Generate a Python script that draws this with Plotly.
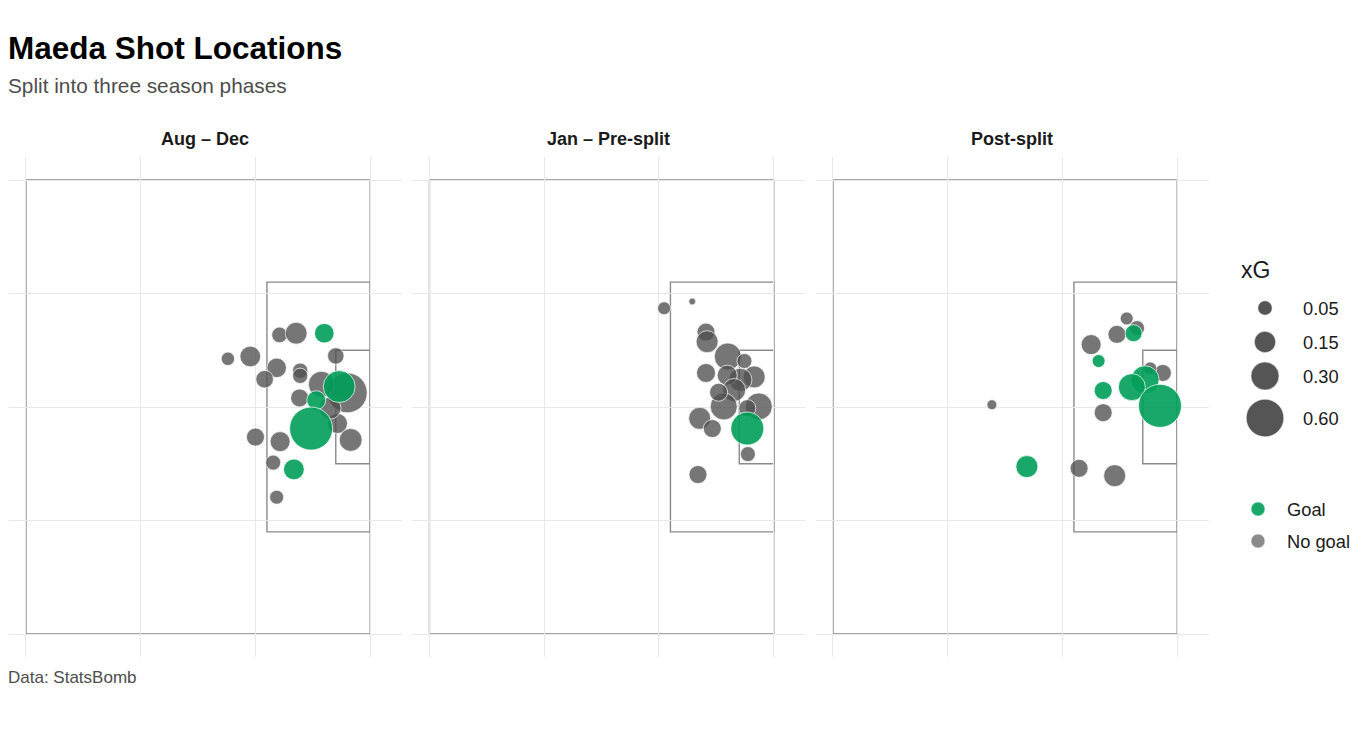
import math
import plotly.graph_objects as go

# phases shown as facets
phases = ["Aug – Dec", "Jan – Pre-split", "Post-split"]

# shot locations (StatsBomb 120 x 80 pitch), xG and outcome
aug_x = [104.2, 107.1, 112.0, 95.2, 99.1, 114.0, 103.7, 101.6, 107.8, 107.8, 116.0, 111.5,
         114.6, 110.6, 107.7, 109.7, 114.3, 116.6, 104.3, 100.0, 103.1, 106.7, 103.7, 113.0]
aug_y = [27.3, 27.0, 27.0, 31.5, 31.1, 31.0, 33.1, 35.1, 33.6, 34.5, 37.5, 36.0,
         36.4, 38.8, 38.4, 43.8, 42.9, 45.8, 46.1, 45.3, 49.8, 51.0, 55.9, 40.2]
aug_xg = [0.065, 0.16, 0.12, 0.04, 0.14, 0.075, 0.12, 0.09, 0.06, 0.06, 0.69, 0.25,
          0.41, 0.11, 0.096, 0.82, 0.128, 0.18, 0.128, 0.096, 0.057, 0.14, 0.046, 0.164]
aug_goal = [0, 0, 1, 0, 0, 0, 0, 0, 0, 0, 0, 0,
            1, 1, 0, 1, 0, 0, 0, 0, 0, 1, 0, 0]

jan_x = [100.9, 105.8, 108.2, 108.4, 112.0, 114.9, 108.2, 116.6, 114.2, 111.9,
         113.1, 111.3, 117.4, 107.1, 109.3, 115.4, 115.4, 115.5, 106.8, 110.4]
jan_y = [22.6, 21.4, 26.8, 28.5, 31.1, 31.9, 34.0, 34.7, 35.2, 34.4,
         37.0, 39.9, 39.9, 42.0, 43.8, 40.2, 43.8, 48.3, 51.9, 37.4]
jan_xg = [0.036, 0.002, 0.096, 0.164, 0.274, 0.057, 0.111, 0.164, 0.184, 0.128,
          0.184, 0.274, 0.274, 0.164, 0.096, 0.082, 0.444, 0.057, 0.096, 0.096]
jan_goal = [0, 0, 0, 0, 0, 0, 0, 0, 0, 0,
            0, 0, 0, 0, 0, 0, 1, 0, 0, 0]

post_x = [111.2, 113.0, 109.5, 112.4, 105.0, 106.3, 117.5, 115.3, 114.4,
          112.1, 107.1, 117.0, 87.7, 107.1, 93.8, 102.9, 109.1]
post_y = [24.4, 26.1, 27.2, 27.0, 29.0, 31.9, 34.0, 33.2, 35.2,
          36.5, 37.1, 39.8, 39.6, 41.0, 50.5, 50.8, 52.1]
post_xg = [0.036, 0.057, 0.096, 0.082, 0.128, 0.036, 0.082, 0.036, 0.30,
           0.274, 0.096, 0.82, 0.014, 0.096, 0.164, 0.096, 0.164]
post_goal = [0, 0, 0, 1, 0, 1, 0, 0, 1,
             1, 1, 1, 0, 0, 1, 0, 0]

shots = [(aug_x, aug_y, aug_xg, aug_goal),
         (jan_x, jan_y, jan_xg, jan_goal),
         (post_x, post_y, post_xg, post_goal)]

legend_xg = [0.05, 0.15, 0.30, 0.60]
legend_xg_labels = ["0.05", "0.15", "0.30", "0.60"]
outcomes = ["Goal", "No goal"]

# pitch markings (StatsBomb coordinates)
pitch = [(60, 0, 120, 80), (102, 18, 120, 62), (114, 30, 120, 50)]

# page body has an 8px margin, so the figure is a bit smaller than the window
OFF = 8
W, H = 1364 - 2 * OFF, 733 - 2 * OFF
FONT = "Liberation Sans, Arial, sans-serif"
GREEN = "rgba(0,158,90,0.9)"
GREY = "rgba(80,80,80,0.78)"


def fx(px):
    return (px - OFF) / W


def fy(py):
    return 1 - (py - OFF) / H


def dot(xg):
    return 5 + 42 * math.sqrt(xg)


fig = go.Figure()

panel_w = 393
for i, (xs, ys, xg, goal) in enumerate(shots):
    ax = "" if i == 0 else str(i + 1)
    for flag, col in [(0, GREY), (1, GREEN)]:
        idx = [k for k in range(len(xs)) if goal[k] == flag]
        fig.add_trace(go.Scatter(
            x=[xs[k] for k in idx], y=[ys[k] for k in idx],
            mode="markers", xaxis="x" + ax, yaxis="y" + ax,
            marker=dict(size=[dot(xg[k]) for k in idx], color=col, opacity=1,
                        line=dict(color="white", width=0.7)),
            showlegend=False, hoverinfo="skip"))
    left = 8.75 + i * 403.5
    fig.layout["xaxis" + ax] = dict(
        domain=[fx(left), fx(left + panel_w)], range=[57, 125.5], anchor="y" + ax,
        tickvals=[60, 80, 100, 120], showticklabels=False, ticks="",
        gridcolor="#e8e8e8", gridwidth=1, zeroline=False, showline=False, fixedrange=True)
    fig.layout["yaxis" + ax] = dict(
        domain=[fy(656.7), fy(157.3)], range=[84, -4], anchor="x" + ax,
        tickvals=[0, 20, 40, 60, 80], showticklabels=False, ticks="",
        gridcolor="#e8e8e8", gridwidth=1, zeroline=False, showline=False, fixedrange=True)
    for x0, y0, x1, y1 in pitch:
        fig.add_shape(type="rect", xref="x" + ax, yref="y" + ax, x0=x0, y0=y0, x1=x1, y1=y1,
                      line=dict(color="#8a8a8a", width=1.4), layer="below")
    fig.add_annotation(text="<b>" + phases[i] + "</b>", xref="paper", yref="paper",
                       x=fx(left + panel_w / 2), y=fy(139), showarrow=False,
                       xanchor="center", yanchor="middle",
                       font=dict(family=FONT, size=18, color="#1a1a1a"))

# legend drawn on its own small axis, in pixel units of the window
lx0, lx1, ly0, ly1 = 1225, 1364 - OFF, 240, 570
fig.layout["xaxis4"] = dict(domain=[fx(lx0), fx(lx1)], range=[lx0, lx1], visible=False,
                            fixedrange=True, anchor="y4")
fig.layout["yaxis4"] = dict(domain=[fy(ly1), fy(ly0)], range=[ly1, ly0], visible=False,
                            fixedrange=True, anchor="x4")

# key heights grow with the key size, as in ggplot legends
key_y = []
y = 308
prev_h = None
for v in legend_xg:
    h = max(34, 2 * dot(v) - 25)
    if prev_h is not None:
        y += (prev_h + h) / 2
    key_y.append(y)
    prev_h = h

fig.add_trace(go.Scatter(
    x=[1265] * len(legend_xg), y=key_y, mode="markers", xaxis="x4", yaxis="y4",
    marker=dict(size=[dot(v) for v in legend_xg], color="#555555", opacity=1,
                line=dict(color="white", width=0.5)),
    showlegend=False, hoverinfo="skip", cliponaxis=False))
for lab, ky in zip(legend_xg_labels, key_y):
    fig.add_annotation(text=lab, xref="x4", yref="y4", x=1301, y=ky, showarrow=False,
                       xanchor="left", yanchor="middle",
                       font=dict(family=FONT, size=18.3, color="#1a1a1a"))

out_y = [509 + 32 * k for k in range(len(outcomes))]
fig.add_trace(go.Scatter(
    x=[1258] * len(outcomes), y=out_y, mode="markers", xaxis="x4", yaxis="y4",
    marker=dict(size=14, color=[GREEN, "rgba(110,110,110,0.8)"], opacity=1,
                line=dict(color="white", width=0.5)),
    showlegend=False, hoverinfo="skip", cliponaxis=False))
for lab, oy in zip(outcomes, out_y):
    fig.add_annotation(text=lab, xref="x4", yref="y4", x=1285, y=oy, showarrow=False,
                       xanchor="left", yanchor="middle",
                       font=dict(family=FONT, size=18.3, color="#1a1a1a"))

fig.add_annotation(text="xG", xref="paper", yref="paper", x=fx(1239), y=fy(270),
                   showarrow=False, xanchor="left", yanchor="middle",
                   font=dict(family=FONT, size=23, color="#1a1a1a"))

# titles and caption
fig.add_annotation(text="<b>Maeda Shot Locations</b>", xref="paper", yref="paper",
                   x=fx(6), y=fy(48), showarrow=False, xanchor="left", yanchor="middle",
                   font=dict(family=FONT, size=31.5, color="#000000"))
fig.add_annotation(text="Split into three season phases", xref="paper", yref="paper",
                   x=fx(6), y=fy(85), showarrow=False, xanchor="left", yanchor="middle",
                   font=dict(family=FONT, size=20.8, color="#4d4d4d"))
fig.add_annotation(text="Data: StatsBomb", xref="paper", yref="paper",
                   x=fx(6), y=fy(677), showarrow=False, xanchor="left", yanchor="middle",
                   font=dict(family=FONT, size=17, color="#4d4d4d"))

fig.update_layout(width=W, height=H, margin=dict(l=0, r=0, t=0, b=0),
                  paper_bgcolor="white", plot_bgcolor="rgba(0,0,0,0)", showlegend=False)

fig.write_html("out.html")
